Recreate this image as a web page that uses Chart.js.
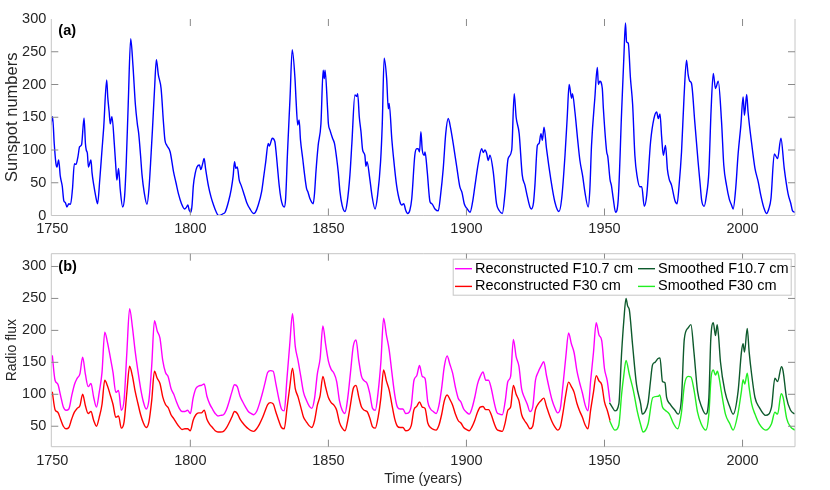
<!DOCTYPE html>
<html>
<head>
<meta charset="utf-8">
<script src="https://cdn.jsdelivr.net/npm/chart.js@4.4.1/dist/chart.umd.min.js"></script>
<style>
  html, body { margin: 0; padding: 0; background: #fff; }
  #wrap { position: relative; width: 830px; height: 490px; }
  canvas { position: absolute; left: 0; }
  #chartA { top: 0; }
  #chartB { top: 240px; }
</style>
</head>
<body>
<div id="wrap">
  <canvas id="chartA" width="830" height="240"></canvas>
  <canvas id="chartB" width="830" height="250"></canvas>
</div>
<script>
// ---- data ----
const xTicks = [1750, 1800, 1850, 1900, 1950, 2000];
const yTicksA = [0, 50, 100, 150, 200, 250, 300];
const yTicksB = [50, 100, 150, 200, 250, 300];

// (a) sunspot numbers, sampled at the turning points of the curve
const sunspotYears = [
  1749.5, 1750.1, 1750.7, 1751.3, 1751.7, 1752.3, 1752.9, 1753.6, 1754.2, 1754.7, 1755.3, 1756.0, 1756.6, 1757.3, 1758.0, 1758.6, 1759.3, 1759.9,
  1760.6, 1761.5, 1762.0, 1762.3, 1762.7, 1763.1, 1764.0, 1764.4, 1765.0, 1765.7, 1766.4, 1767.2, 1768.0, 1768.6, 1769.7,
  1770.1, 1770.6, 1771.0, 1771.6, 1772.5, 1773.0, 1773.4, 1774.0, 1774.6, 1775.5, 1776.2, 1776.8, 1777.5, 1778.4, 1779.2,
  1780.1, 1780.8, 1781.3, 1782.0, 1782.5, 1783.3, 1784.3, 1785.0, 1785.8, 1786.3, 1787.0, 1787.7, 1788.4, 1789.4,
  1790.3, 1790.8, 1791.5, 1792.7, 1793.9, 1794.8, 1795.7, 1796.8, 1797.9, 1798.5, 1799.1, 1799.6,
  1800.2, 1800.6, 1801.1, 1801.8, 1802.4, 1803.3, 1803.8, 1804.4, 1805.0, 1805.5, 1806.6, 1807.5, 1808.4, 1809.3,
  1810.2, 1811.2, 1812.0, 1812.6, 1813.8, 1814.8, 1815.5, 1816.0, 1816.5, 1817.0, 1817.7, 1818.4, 1819.2,
  1820.4, 1821.6, 1823.0, 1823.6, 1824.6, 1825.8, 1826.6, 1827.3, 1828.2, 1828.6, 1829.7,
  1830.6, 1831.1, 1831.6, 1832.2, 1832.8, 1833.4, 1834.0, 1834.5, 1835.2, 1836.1, 1836.9, 1837.9, 1838.3, 1838.9, 1839.4, 1839.9,
  1840.7, 1841.3, 1842.1, 1842.6, 1843.3, 1844.5, 1845.0, 1845.5, 1846.3, 1847.3, 1848.1, 1848.5, 1848.8, 1849.7,
  1850.0, 1850.6, 1851.5, 1852.2, 1853.0, 1853.6, 1854.2, 1855.0, 1856.0, 1856.8, 1857.8, 1858.5, 1859.6,
  1860.3, 1860.6, 1861.2, 1861.8, 1862.4, 1863.2, 1863.6, 1864.0, 1865.0, 1865.8, 1866.9, 1867.8, 1868.9, 1869.5,
  1870.2, 1871.1, 1871.7, 1872.0, 1873.0, 1873.5, 1874.7, 1875.9, 1876.6, 1877.3, 1878.0, 1878.7, 1879.5,
  1880.2, 1881.3, 1882.0, 1882.5, 1883.0, 1883.5, 1884.0, 1884.7, 1885.0, 1885.8, 1886.8, 1887.5, 1888.6, 1889.8,
  1890.6, 1891.6, 1892.5, 1893.4, 1894.2, 1895.2, 1896.5, 1897.6, 1898.4, 1899.2,
  1900.3, 1901.3, 1902.2, 1903.1, 1904.3, 1905.5, 1906.1, 1906.7, 1907.3, 1907.9, 1908.5, 1909.7,
  1910.9, 1911.8, 1913.0, 1914.0, 1915.1, 1916.4, 1917.3, 1918.0, 1919.1,
  1920.2, 1921.2, 1922.0, 1923.0, 1923.5, 1924.3, 1924.8, 1925.7, 1926.3, 1927.0, 1927.5, 1928.1, 1929.0,
  1930.6, 1932.0, 1933.5, 1934.5, 1935.7, 1936.5, 1937.2, 1938.1, 1938.4, 1939.3,
  1940.3, 1941.1, 1942.1, 1942.9, 1944.1, 1944.7, 1945.3, 1946.5, 1947.4, 1947.8, 1948.3, 1949.2, 1949.6,
  1950.8, 1951.2, 1952.0, 1952.5, 1953.2, 1954.0, 1955.0, 1956.2, 1957.0, 1957.6, 1958.0, 1958.6, 1959.4,
  1960.2, 1961.0, 1961.8, 1962.8, 1963.5, 1964.4, 1965.3, 1966.7, 1967.9, 1968.9, 1969.5,
  1970.1, 1970.7, 1971.3, 1972.1, 1972.8, 1973.4, 1974.3, 1975.5, 1976.3, 1977.0, 1977.9, 1978.8, 1979.7,
  1980.3, 1980.9, 1981.5, 1982.7, 1983.9, 1984.6, 1985.2, 1986.1, 1986.9, 1987.8, 1988.6, 1989.4,
  1990.2, 1991.2, 1992.4, 1993.2, 1994.2, 1995.2, 1996.0, 1996.6, 1997.5, 1998.4, 1999.4,
  2000.2, 2000.7, 2001.5, 2002.0, 2003.3, 2004.5, 2005.7, 2006.6, 2007.7, 2008.7, 2009.5,
  2010.3, 2011.5, 2012.7, 2013.9, 2015.1, 2016.5, 2017.5, 2018.1, 2019.0
];
const sunspotValues = [
  138, 151, 110, 80, 74, 85, 60, 45, 22, 20, 13, 18, 17, 40, 79, 78, 90, 105,
  108, 149, 110, 100, 95, 74, 85, 65, 47, 30, 18, 55, 100, 133, 207,
  180, 158, 140, 151, 107, 75, 54, 72, 40, 13, 30, 82, 170, 270, 230,
  169, 140, 125, 90, 62, 35, 17, 40, 95, 133, 190, 238, 215, 194,
  140, 115, 107, 97, 67, 50, 33, 18, 10, 12, 16, 8,
  5, 15, 46, 65, 74, 77, 70, 78, 87, 72, 44, 28, 16, 6,
  0, 1, 3, 5, 21, 40, 60, 82, 72, 74, 54, 46, 36,
  20, 10, 3, 5, 16, 36, 60, 82, 110, 106, 118,
  113, 95, 72, 45, 26, 16, 13, 25, 97, 179, 253, 209, 175, 138, 146, 115,
  87, 65, 41, 36, 26, 18, 35, 67, 107, 140, 222, 209, 222, 163,
  140, 130, 118, 110, 87, 65, 36, 15, 6, 20, 62, 110, 184,
  182, 186, 150, 128, 100, 92, 75, 82, 56, 30, 10, 30, 82, 138,
  240, 209, 163, 171, 115, 92, 46, 21, 16, 18, 8, 3, 8,
  26, 92, 102, 102, 97, 128, 100, 92, 97, 67, 21, 18, 10, 7,
  30, 72, 125, 148, 135, 110, 74, 44, 35, 18,
  10, 5, 20, 46, 80, 102, 96, 100, 95, 84, 92, 67,
  18, 8, 3, 35, 87, 100, 186, 150, 125,
  62, 46, 30, 13, 10, 20, 46, 107, 110, 125, 115, 135, 102,
  54, 21, 6, 26, 92, 150, 200, 179, 186, 158,
  115, 84, 60, 36, 13, 40, 107, 179, 226, 200, 205, 194, 163,
  97, 90, 55, 46, 25, 5, 26, 158, 240, 294, 265, 263, 210,
  169, 92, 60, 44, 44, 14, 31, 113, 148, 158, 148,
  155, 120, 92, 107, 70, 56, 46, 23, 18, 45, 97, 180, 237,
  215, 205, 202, 143, 82, 50, 23, 14, 30, 67, 160, 217,
  194, 205, 143, 77, 46, 25, 16, 10, 40, 94, 138,
  181, 153, 185, 158, 110, 72, 51, 31, 12, 3, 10,
  26, 94, 87, 118, 72, 33, 18, 7, 5
];

// (b) reconstructed radio flux, one value per year 1750..1952
const reconStartYear = 1750;
const reconF107 = [
  161, 122, 116, 98, 80, 75, 77, 97, 115, 125,
  132, 158, 131, 112, 117, 95, 80, 103, 134, 197,
  181, 158, 134, 103, 106, 75, 91, 165, 234, 206,
  168, 137, 109, 88, 77, 91, 144, 215, 199, 188,
  153, 134, 127, 109, 100, 88, 78, 73, 73, 75,
  70, 94, 109, 113, 114, 116, 97, 85, 77, 70,
  66, 67, 68, 75, 88, 103, 115, 112, 97, 88,
  80, 73, 70, 68, 73, 85, 100, 117, 134, 137,
  136, 116, 94, 77, 74, 125, 178, 226, 175, 153,
  128, 103, 91, 82, 78, 94, 132, 156, 207, 178,
  152, 139, 133, 120, 90, 75, 70, 94, 134, 175,
  185, 153, 128, 121, 117, 101, 78, 75, 103, 150,
  219, 193, 170, 134, 100, 80, 77, 77, 70, 71,
  82, 122, 129, 145, 128, 125, 88, 77, 73, 70,
  82, 109, 144, 160, 147, 133, 111, 94, 88, 77,
  72, 69, 78, 95, 116, 128, 135, 122, 122, 109,
  88, 72, 69, 68, 88, 120, 128, 186, 159, 144,
  108, 95, 85, 73, 80, 122, 135, 144, 151, 129,
  109, 91, 79, 71, 78, 116, 159, 196, 179, 165,
  137, 118, 102, 83, 74, 122, 165, 212, 193, 184,
  140, 121, 88
];
const reconF30 = [
  104, 76, 72, 61, 50, 46, 48, 61, 72, 78,
  82, 100, 82, 70, 73, 59, 50, 64, 84, 122,
  113, 99, 84, 64, 66, 47, 57, 103, 144, 129,
  105, 86, 68, 55, 48, 57, 90, 136, 125, 117,
  96, 84, 79, 68, 62, 55, 49, 45, 46, 46,
  43, 59, 68, 71, 71, 75, 61, 53, 48, 43,
  41, 41, 42, 47, 55, 64, 73, 70, 61, 55,
  50, 46, 43, 42, 46, 53, 62, 73, 84, 87,
  85, 72, 59, 48, 46, 78, 111, 141, 109, 96,
  80, 64, 57, 51, 48, 59, 83, 98, 128, 111,
  95, 87, 83, 75, 56, 47, 43, 59, 84, 109,
  114, 96, 80, 75, 73, 63, 49, 47, 64, 94,
  138, 121, 107, 84, 62, 50, 48, 48, 43, 44,
  51, 76, 81, 88, 80, 78, 55, 48, 45, 44,
  51, 68, 90, 99, 92, 83, 69, 59, 55, 48,
  45, 43, 49, 59, 72, 80, 81, 76, 76, 68,
  55, 45, 43, 42, 55, 75, 80, 114, 100, 90,
  68, 59, 53, 46, 50, 76, 85, 90, 94, 81,
  68, 57, 49, 44, 49, 72, 100, 119, 112, 103,
  86, 74, 64, 52, 46, 76, 103, 129, 121, 115,
  88, 75, 59
];

// (b) smoothed observed radio flux, sampled at turning points
const smoothF107Years = [
  1951.8, 1952.8, 1953.8, 1955.2, 1956.2, 1957.0, 1957.8, 1958.4, 1959.0, 1960.2, 1961.6, 1963.1, 1963.7, 1964.6, 1965.8,
  1966.6, 1967.4, 1968.3, 1969.4, 1970.1, 1971.0, 1971.9, 1972.5, 1973.7, 1975.5, 1976.7, 1977.9, 1978.9, 1980.3, 1981.3,
  1982.4, 1983.7, 1985.2, 1986.7, 1987.8, 1988.5, 1989.4, 1990.2, 1990.8, 1991.3, 1992.0, 1993.6, 1995.4, 1996.6, 1998.4,
  1999.6, 2000.2, 2000.7, 2001.7, 2002.4, 2003.3, 2004.5, 2006.0, 2008.4, 2010.5, 2011.7, 2012.7, 2014.1, 2014.7, 2015.9,
  2017.4, 2018.9
];
const smoothF107 = [
  87, 80, 74, 85, 165, 215, 250, 238, 232, 176, 115, 85, 69, 72, 87,
  118, 146, 150, 156, 157, 120, 118, 95, 85, 75, 69, 95, 186, 204, 209,
  166, 105, 80, 69, 95, 186, 212, 192, 209, 192, 151, 105, 80, 69, 105,
  166, 179, 166, 203, 166, 131, 95, 80, 67, 80, 125, 120, 143, 136, 95,
  75, 69
];
const smoothF30Years = [
  1951.8, 1953.8, 1955.2, 1956.2, 1957.0, 1957.8, 1959.0, 1960.5, 1961.8, 1963.0, 1964.0, 1965.8, 1967.5, 1969.5, 1970.0,
  1971.0, 1972.0, 1973.5, 1975.0, 1976.5, 1977.8, 1979.0, 1980.3, 1981.3, 1982.5, 1983.7, 1985.0, 1986.7, 1987.8, 1988.6,
  1989.4, 1990.2, 1990.9, 1991.5, 1992.3, 1993.8, 1995.4, 1996.6, 1998.3, 1999.6, 2000.2, 2000.8, 2001.7, 2002.4, 2003.3,
  2004.5, 2006.0, 2008.4, 2010.5, 2011.7, 2012.7, 2014.0, 2014.7, 2016.0, 2017.4, 2019.0
];
const smoothF30 = [
  59, 44, 52, 100, 130, 153, 131, 105, 75, 54, 41, 54, 95, 97, 99,
  80, 75, 69, 54, 46, 69, 116, 128, 127, 105, 72, 54, 44, 69, 126,
  138, 130, 136, 126, 105, 69, 54, 44, 69, 105, 123, 116, 133, 110, 85,
  69, 54, 44, 54, 72, 69, 101, 95, 62, 49, 44
];

const xMin = 1749.64, xMax = 2019;
const FONT = '"Liberation Sans", Arial, Helvetica, sans-serif';
const TXT = '#262626';

const pts = (xs, ys) => ys.map((v, i) => ({ x: xs[i], y: v }));
const yearly = (start, ys) => ys.map((v, i) => ({ x: start + i, y: v }));

// box, inward ticks, panel letter, optional legend
const frame = {
  id: 'frame',
  afterDatasetsDraw(chart, args, o) {
    const { ctx, chartArea: a, scales: { x, y } } = chart;
    ctx.save();
    ctx.lineWidth = 1;
    ctx.strokeStyle = '#c6c6c6';
    ctx.beginPath();
    if (o.top) { ctx.moveTo(a.left, a.top); ctx.lineTo(a.right, a.top); }
    ctx.moveTo(a.left, a.top); ctx.lineTo(a.left, a.bottom);
    ctx.lineTo(a.right, a.bottom); ctx.lineTo(a.right, a.top);
    ctx.stroke();

    ctx.strokeStyle = '#8a8a8a';
    ctx.beginPath();
    x.ticks.forEach(t => {
      const px = x.getPixelForValue(t.value);
      if (px < a.left + 2 || px > a.right - 2) return;
      ctx.moveTo(px, a.bottom); ctx.lineTo(px, a.bottom - 7);
      ctx.moveTo(px, a.top); ctx.lineTo(px, a.top + 7);
    });
    y.ticks.forEach(t => {
      const py = y.getPixelForValue(t.value);
      if (py < a.top + 2 || py > a.bottom - 2) return;
      ctx.moveTo(a.left, py); ctx.lineTo(a.left + 7, py);
      ctx.moveTo(a.right, py); ctx.lineTo(a.right - 7, py);
    });
    ctx.stroke();

    ctx.fillStyle = '#000';
    ctx.font = 'bold 14.5px ' + FONT;
    ctx.textBaseline = 'middle';
    ctx.textAlign = 'left';
    ctx.fillText(o.letter, a.left + 7, a.top + o.letterDy);

    if (o.legend) {
      const L = a.right - 4.3 - 338, T = a.top + 5, W = 338, H = 36;
      ctx.fillStyle = '#fff';
      ctx.fillRect(L, T, W, H);
      ctx.strokeStyle = '#c6c6c6';
      ctx.strokeRect(L + 0.5, T + 0.5, W, H);
      ctx.font = '14.5px ' + FONT;
      const ds = chart.data.datasets;
      const cols = [L + 2.3, L + 185.3];
      const rows = [T + 10, T + 27.7];
      o.legend.forEach((idx, k) => {
        const cx = cols[Math.floor(k / 2)], cy = rows[k % 2];
        ctx.strokeStyle = ds[idx].borderColor;
        ctx.lineWidth = 1.4;
        ctx.beginPath(); ctx.moveTo(cx, cy); ctx.lineTo(cx + 17, cy); ctx.stroke();
        ctx.fillStyle = '#000';
        ctx.fillText(ds[idx].label, cx + 20, cy);
      });
    }
    ctx.restore();
  }
};

function xScale(labelPad, height, title) {
  return {
    type: 'linear', min: xMin, max: xMax,
    afterBuildTicks: s => { s.ticks = xTicks.map(v => ({ value: v })); },
    afterFit: s => { s.height = height; },
    grid: { display: false, drawTicks: false },
    border: { display: false },
    ticks: { padding: labelPad, color: TXT, font: { family: FONT, size: 14.5 }, maxRotation: 0, callback: v => String(v) },
    title: title ? { display: true, text: title, color: TXT, font: { family: FONT, size: 14 }, padding: { top: 0, bottom: 2.6 } } : { display: false }
  };
}
function yScale(min, max, ticks, title, size) {
  return {
    min, max,
    afterBuildTicks: s => { s.ticks = ticks.map(v => ({ value: v })); },
    afterFit: s => { s.width = 51.3; },
    grid: { display: false, drawTicks: false },
    border: { display: false },
    ticks: { padding: 5, color: TXT, font: { family: FONT, size: 14.5 }, callback: v => String(v) },
    title: { display: true, text: title, color: TXT, font: { family: FONT, size }, padding: { top: 12.5 - size * 0.6, bottom: 0 } }
  };
}
const line = (label, data, color) => ({
  label, data, borderColor: color, backgroundColor: color,
  borderWidth: 1.4, pointRadius: 0, fill: false, cubicInterpolationMode: 'monotone'
});

new Chart(document.getElementById('chartA'), {
  type: 'line',
  data: { datasets: [line('Sunspot numbers', pts(sunspotYears, sunspotValues), '#0000ff')] },
  options: {
    responsive: false, animation: false, devicePixelRatio: 1,
    layout: { padding: { left: 0, right: 35, top: 19, bottom: 0 } },
    plugins: { legend: { display: false }, tooltip: { enabled: false },
      frame: { top: false, letter: '(a)', letterDy: 11.5 } },
    scales: { x: xScale(5, 24.5, null), y: yScale(0, 300, yTicksA, 'Sunspot numbers', 16.5) }
  },
  plugins: [frame]
});

new Chart(document.getElementById('chartB'), {
  type: 'line',
  data: { datasets: [
    line('Reconstructed F10.7 cm', yearly(reconStartYear, reconF107), '#ff00ff'),
    line('Reconstructed F30 cm', yearly(reconStartYear, reconF30), '#ff0000'),
    line('Smoothed F10.7 cm', pts(smoothF107Years, smoothF107), '#0d5a2c'),
    line('Smoothed F30 cm', pts(smoothF30Years, smoothF30), '#22ee22')
  ] },
  options: {
    responsive: false, animation: false, devicePixelRatio: 1,
    layout: { padding: { left: 0, right: 35, top: 10, bottom: 0 } },
    plugins: { legend: { display: false }, tooltip: { enabled: false },
      frame: { top: true, letter: '(b)', letterDy: 13.5, legend: [0, 1, 2, 3] } },
    scales: { x: xScale(6, 43.3, 'Time (years)'), y: yScale(18, 320, yTicksB, 'Radio flux', 14) }
  },
  plugins: [frame]
});
</script>
</body>
</html>
